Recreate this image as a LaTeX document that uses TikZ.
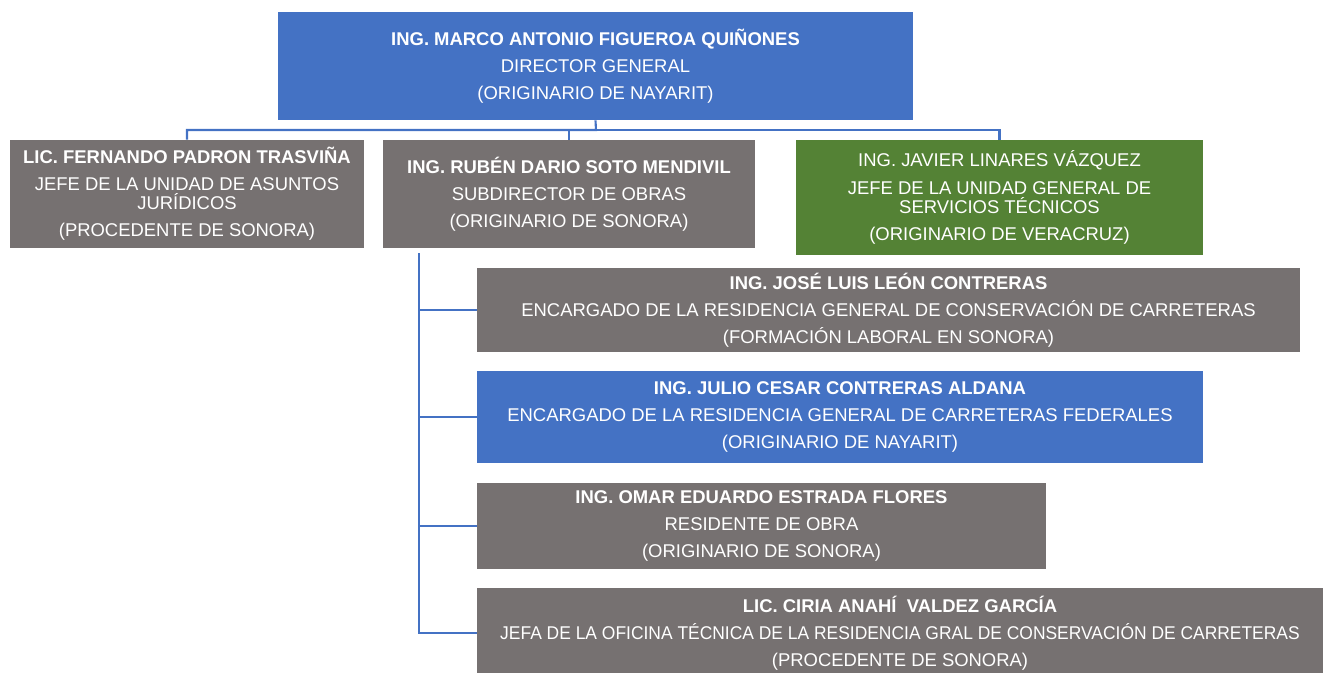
\documentclass[tikz,border=0pt]{standalone}
\usepackage{fontspec}
\setmainfont{Liberation Sans}
\usepackage{xcolor}
\usepackage{graphicx}
\usetikzlibrary{arrows.meta, positioning}

\definecolor{bossblue}{HTML}{4472C4}
\definecolor{staffgrey}{HTML}{767171}
\definecolor{techgreen}{HTML}{548235}
\definecolor{linkblue}{HTML}{4472C4}

\tikzset{
  orgbox/.style={rectangle, inner sep=0pt, text=white, align=center,
    font=\fontsize{10.5}{15.4}\selectfont},
  bluebox/.style={orgbox, fill=bossblue},
  greybox/.style={orgbox, fill=staffgrey},
  greenbox/.style={orgbox, fill=techgreen},
  link/.style={draw=linkblue, line width=1.2pt}
}

\begin{document}
\begin{tikzpicture}[x=0.02cm, y=-0.02cm]
                \useasboundingbox (0,0) rectangle (1326,673);

                \node[bluebox, minimum width=12.7cm, minimum height=2.16cm] (director) at (595.5,66) {\textbf{ING. MARCO ANTONIO FIGUEROA QUIÑONES}\\DIRECTOR GENERAL\\(ORIGINARIO DE NAYARIT)};
                \node[greybox, minimum width=7.08cm, minimum height=2.16cm] (fernando) at (187,194) {\textbf{LIC. FERNANDO PADRON TRASVIÑA}\\JEFE DE LA UNIDAD DE ASUNTOS\\[-4.5pt]JURÍDICOS\\(PROCEDENTE DE SONORA)};
                \node[greybox, minimum width=7.44cm, minimum height=2.16cm] (ruben) at (569,194) {\textbf{ING. RUBÉN DARIO SOTO MENDIVIL}\\SUBDIRECTOR DE OBRAS\\(ORIGINARIO DE SONORA)};
                \node[greenbox, minimum width=8.14cm, minimum height=2.3cm] (javier) at (999.5,197.5) {ING. JAVIER LINARES VÁZQUEZ\\JEFE DE LA UNIDAD GENERAL DE\\[-4.5pt]SERVICIOS TÉCNICOS\\(ORIGINARIO DE VERACRUZ)};
                \node[greybox, minimum width=16.46cm, minimum height=1.68cm] (jose) at (888.5,310) {\textbf{ING. JOSÉ LUIS LEÓN CONTRERAS}\\ENCARGADO DE LA RESIDENCIA GENERAL DE CONSERVACIÓN DE CARRETERAS\\(FORMACIÓN LABORAL EN SONORA)};
                \node[bluebox, minimum width=14.52cm, minimum height=1.84cm] (julio) at (840,417) {\textbf{ING. JULIO CESAR CONTRERAS ALDANA}\\ENCARGADO DE LA RESIDENCIA GENERAL DE CARRETERAS FEDERALES\\(ORIGINARIO DE NAYARIT)};
                \node[greybox, minimum width=11.38cm, minimum height=1.72cm] (omar) at (761.5,526) {\textbf{ING. OMAR EDUARDO ESTRADA FLORES}\\RESIDENTE DE OBRA\\(ORIGINARIO DE SONORA)};
                \node[greybox, minimum width=16.92cm, minimum height=1.8cm] (ciria) at (900,633) {\textbf{LIC. CIRIA ANAHÍ~ VALDEZ GARCÍA}\\\scalebox{0.945}[1]{JEFA DE LA OFICINA TÉCNICA DE LA RESIDENCIA GRAL DE CONSERVACIÓN DE CARRETERAS}\\(PROCEDENTE DE SONORA)};

                \coordinate (bus) at (596,130);
                \coordinate (spine) at (419,253);

                \draw[link] (director.south) -- (bus) -| (fernando.north);
                \draw[link] (bus) -| (ruben.north);
                \draw[link] (bus) -| (javier.north);

                \draw[link] (spine) |- (jose.west);
                \draw[link] (spine) |- (julio.west);
                \draw[link] (spine) |- (omar.west);
                \draw[link] (spine) |- (ciria.west);
            \end{tikzpicture}
\end{document}
